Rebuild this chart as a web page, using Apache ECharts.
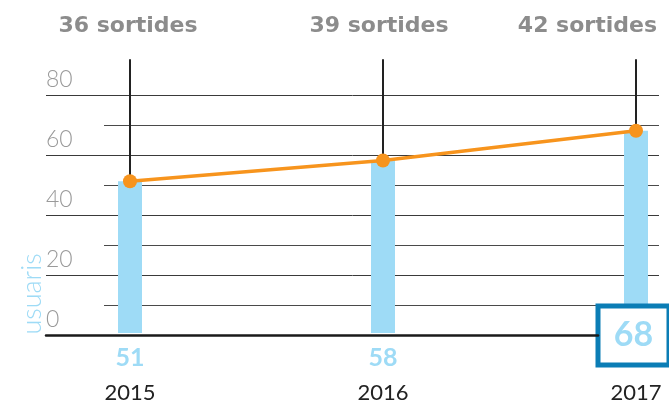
<!DOCTYPE html>
<html><head><meta charset="utf-8">
<script src="https://cdn.jsdelivr.net/npm/echarts@6/dist/echarts.min.js"></script>
<style>html,body{margin:0;padding:0;background:#fff}#c{width:669px;height:404px}</style>
</head><body><div id="c"></div>
<script>
// ---- data ----
const years = ['2015', '2016', '2017'];
const users = [51, 58, 68];
const outings = ['36 sortides', '39 sortides', '42 sortides'];
const yMin = 0, yMax = 80;
const majorStep = 20, minorStep = 10;
const stemTop = 92;
const yName = 'usuaris';

// ---- styles ----
const FONT = 'Lato, "Open Sans", sans-serif';
const BLUE = '#9edbf6';
const ORANGE = '#f7941d';
const BOX = '#0b7db5';
const labelAlign = ['center', 'center', 'right'];
const labelDx = [-2, -4, 21];
const TOP = 95, BOTTOM = 69;

const chart = echarts.init(document.getElementById('c'), null, {renderer: 'canvas'});

const barData = users.map((v, i) => i === users.length - 1 ? {
  value: v,
  label: {
    position: 'bottom', distance: 0, offset: [-2.5, -24.5],
    formatter: '{box|{c}}',
    rich: {
      box: {
        width: 66, height: 54, lineHeight: 54,
        borderColor: BOX, borderWidth: 5, backgroundColor: '#fff',
        align: 'center', verticalAlign: 'middle',
        fontSize: 34, fontWeight: 'bold', color: BLUE, fontFamily: FONT
      }
    }
  }
} : v);

const option = {
  animation: false,
  grid: [
    {left: 130, right: 33, top: TOP, bottom: BOTTOM},
    {left: 46, right: 10, top: TOP, bottom: BOTTOM},
    {left: 104, right: 10, top: TOP, bottom: BOTTOM},
    {left: 46, right: 71, top: TOP, bottom: BOTTOM}
  ],
  xAxis: [
    {gridIndex: 0, type: 'category', data: years, boundaryGap: false,
      axisLine: {show: false}, axisTick: {show: false}, splitLine: {show: false},
      axisLabel: {fontFamily: FONT, fontSize: 22, color: '#222', margin: 49}},
    {gridIndex: 1, type: 'value', show: false},
    {gridIndex: 2, type: 'value', show: false},
    {gridIndex: 3, type: 'value', z: 3,
      axisLine: {show: true, lineStyle: {color: '#1a1a1a', width: 2.5}},
      axisTick: {show: false}, axisLabel: {show: false}, splitLine: {show: false}}
  ],
  yAxis: [
    {gridIndex: 0, type: 'value', min: yMin, max: yMax, show: false},
    {gridIndex: 1, type: 'value', min: yMin, max: yMax, interval: majorStep,
      axisLine: {show: false}, axisTick: {show: false},
      axisLabel: {inside: true, margin: 0, verticalAlign: 'bottom', padding: [0, 0, 4, 0],
        color: '#9a9a9a', fontSize: 23, fontWeight: 300, fontFamily: FONT},
      splitLine: {show: true, lineStyle: {color: ['rgba(0,0,0,0)', '#3a3a3a', '#3a3a3a', '#3a3a3a', '#3a3a3a'], width: 1}}},
    {gridIndex: 2, type: 'value', min: yMin, max: yMax, interval: minorStep,
      axisLine: {show: false}, axisTick: {show: false}, axisLabel: {show: false},
      splitLine: {show: true, lineStyle: {color: ['rgba(0,0,0,0)', '#4a4a4a'], width: 1}}},
    {gridIndex: 3, type: 'value', min: yMin, max: yMax, show: false}
  ],
  graphic: [{
    type: 'text', x: 32, y: 294, rotation: Math.PI / 2,
    style: {text: yName, fill: BLUE, font: '300 27px ' + FONT,
      align: 'center', verticalAlign: 'middle', textAlign: 'center', textVerticalAlign: 'middle'}
  }],
  series: [
    {type: 'bar', xAxisIndex: 0, yAxisIndex: 0, data: barData, barWidth: 24, z: 2,
      itemStyle: {color: BLUE},
      label: {show: true, position: 'bottom', distance: 12, formatter: '{c}',
        color: BLUE, fontSize: 25, fontWeight: 'bold', fontFamily: FONT}},
    {type: 'custom', xAxisIndex: 0, yAxisIndex: 0, z: 3,
      data: users.map((v, i) => [i, v]),
      renderItem: function (params, api) {
        const i = params.dataIndex;
        const p0 = api.coord([api.value(0), api.value(1)]);
        const p1 = api.coord([api.value(0), stemTop]);
        return {type: 'group', children: [
          {type: 'line', shape: {x1: p0[0], y1: p0[1], x2: p1[0], y2: p1[1]},
            style: {stroke: '#222', lineWidth: 2}},
          {type: 'text', x: p0[0] + labelDx[i], y: 26,
            style: {text: outings[i], fill: '#8c8c8c', font: 'bold 22px "DejaVu Sans", sans-serif',
              align: labelAlign[i], verticalAlign: 'middle'}}
        ]};
      }},
    {type: 'line', xAxisIndex: 0, yAxisIndex: 0, data: users, z: 4,
      symbol: 'circle', symbolSize: 14, color: ORANGE,
      lineStyle: {color: ORANGE, width: 3.5}, itemStyle: {color: ORANGE}}
  ]
};
chart.setOption(option);
</script>
</body></html>
